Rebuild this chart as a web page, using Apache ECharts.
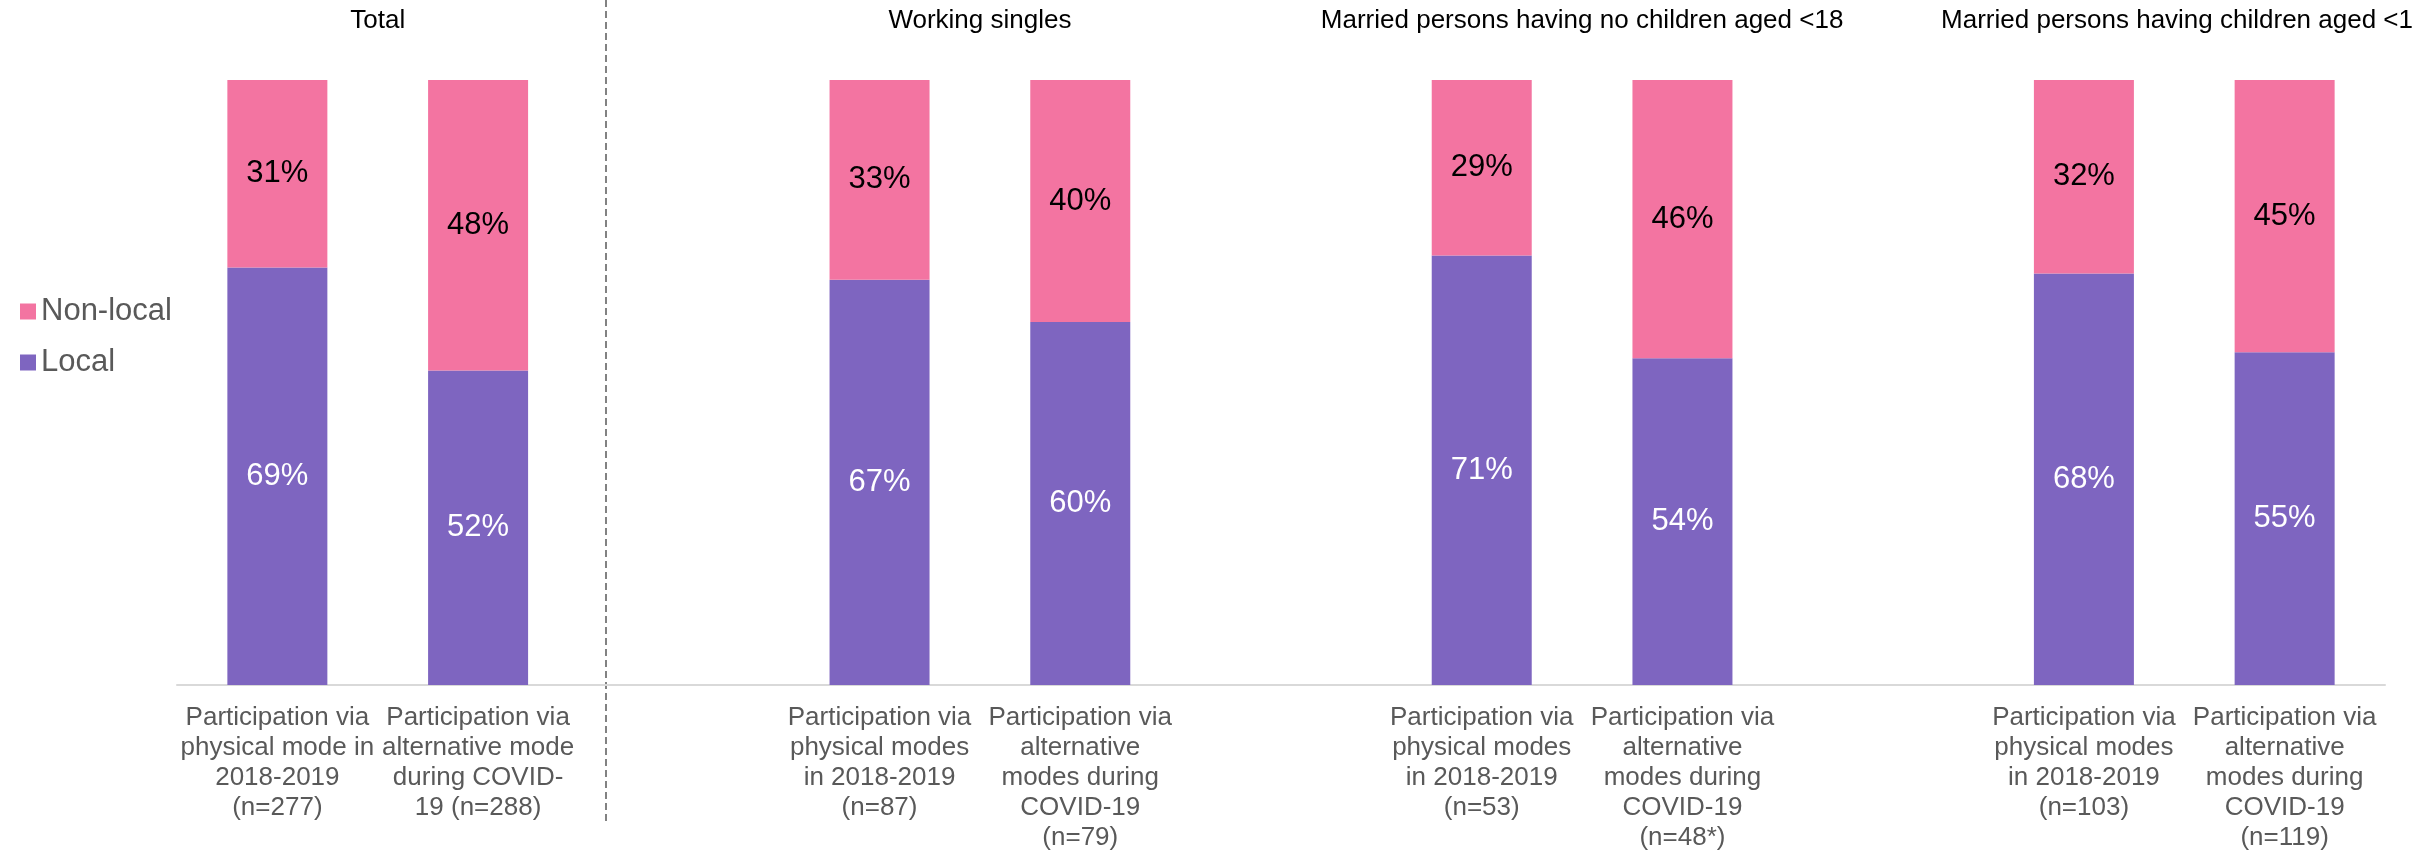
<!DOCTYPE html>
<html>
<head>
<meta charset="utf-8">
<title>Local vs non-local participation</title>
<script src="https://cdn.jsdelivr.net/npm/echarts@6/dist/echarts.min.js"></script>
<style>
  html, body { margin: 0; padding: 0; background: #fff; }
  #chart { width: 2412px; height: 854px; }
</style>
</head>
<body>
<div id="chart"></div>
<script>
// group headings shown above each pair of bars
const groupTitles = [
  'Total',
  'Working singles',
  'Married persons having no children aged <18',
  'Married persons having children aged <18'
];

// axis labels, two bars per group
const barLabels = [
  ['Participation via\nphysical mode in\n2018-2019\n(n=277)', 'Participation via\nalternative mode\nduring COVID-\n19 (n=288)'],
  ['Participation via\nphysical modes\nin 2018-2019\n(n=87)', 'Participation via\nalternative\nmodes during\nCOVID-19\n(n=79)'],
  ['Participation via\nphysical modes\nin 2018-2019\n(n=53)', 'Participation via\nalternative\nmodes during\nCOVID-19\n(n=48*)'],
  ['Participation via\nphysical modes\nin 2018-2019\n(n=103)', 'Participation via\nalternative\nmodes during\nCOVID-19\n(n=119)']
];

// shares in %
const localShare = [[69, 52], [67, 60], [71, 54], [68, 55]];
const nonLocalShare = [[31, 48], [33, 40], [29, 46], [32, 45]];

const legendNames = ['Non-local', 'Local'];

// flatten into one category axis with an empty slot between groups
const categories = [];
const localData = [];
const nonLocalData = [];
const groupSlots = [];
groupTitles.forEach((g, i) => {
  if (i > 0) {
    categories.push(' '.repeat(i));
    localData.push(null);
    nonLocalData.push(null);
  }
  groupSlots.push([categories.length, categories.length + 1]);
  barLabels[i].forEach((lab, j) => {
    categories.push(lab);
    localData.push(localShare[i][j]);
    nonLocalData.push(nonLocalShare[i][j]);
  });
});

const FONT = '"Liberation Sans", Arial, sans-serif';

const myChart = echarts.init(document.getElementById('chart'));
myChart.setOption({
  animation: false,
  textStyle: { fontFamily: FONT },
  legend: {
    data: legendNames,
    orient: 'vertical',
    left: 15,
    top: 291,
    itemWidth: 16,
    itemHeight: 16,
    itemGap: 20,
    icon: 'rect',
    textStyle: { fontSize: 31, color: '#595959', fontFamily: FONT }
  },
  grid: { left: 177, right: 27, top: 80, bottom: 169, containLabel: false },
  xAxis: {
    type: 'category',
    data: categories,
    axisTick: { show: false },
    axisLine: { lineStyle: { color: '#d9d9d9', width: 2 } },
    axisLabel: {
      interval: 0,
      margin: 18,
      fontSize: 26,
      lineHeight: 30,
      color: '#595959',
      fontFamily: FONT,
      align: 'center'
    }
  },
  yAxis: {
    type: 'value',
    min: 0,
    max: 100,
    show: false,
    splitLine: { show: false }
  },
  series: [
    {
      name: 'Local',
      type: 'bar',
      stack: 'share',
      barWidth: 100,
      data: localData,
      itemStyle: { color: '#7e65c0' },
      label: {
        show: true,
        position: 'inside',
        formatter: '{c}%',
        color: '#ffffff',
        fontSize: 31,
        fontFamily: FONT
      }
    },
    {
      name: 'Non-local',
      type: 'bar',
      stack: 'share',
      barWidth: 100,
      data: nonLocalData,
      itemStyle: { color: '#f374a1' },
      label: {
        show: true,
        position: 'inside',
        formatter: '{c}%',
        color: '#000000',
        fontSize: 31,
        fontFamily: FONT
      }
    }
  ],
  graphic: [
    {
      id: 'separator',
      type: 'line',
      shape: { x1: 606, y1: 0, x2: 606, y2: 822 },
      style: { stroke: '#595959', lineWidth: 1.5, lineDash: [7, 4] },
      silent: true
    }
  ]
});

// headings centred over each pair of bars, placed through the axis scale
const headingGraphics = groupTitles.map((t, i) => {
  const a = myChart.convertToPixel({ xAxisIndex: 0 }, categories[groupSlots[i][0]]);
  const b = myChart.convertToPixel({ xAxisIndex: 0 }, categories[groupSlots[i][1]]);
  return {
    id: 'heading' + i,
    type: 'text',
    x: (a + b) / 2,
    y: 21,
    silent: true,
    style: {
      text: t,
      fontSize: 26,
      fontFamily: FONT,
      fill: '#000000',
      align: 'center',
      verticalAlign: 'middle'
    }
  };
});
myChart.setOption({ graphic: headingGraphics });
</script>
</body>
</html>
